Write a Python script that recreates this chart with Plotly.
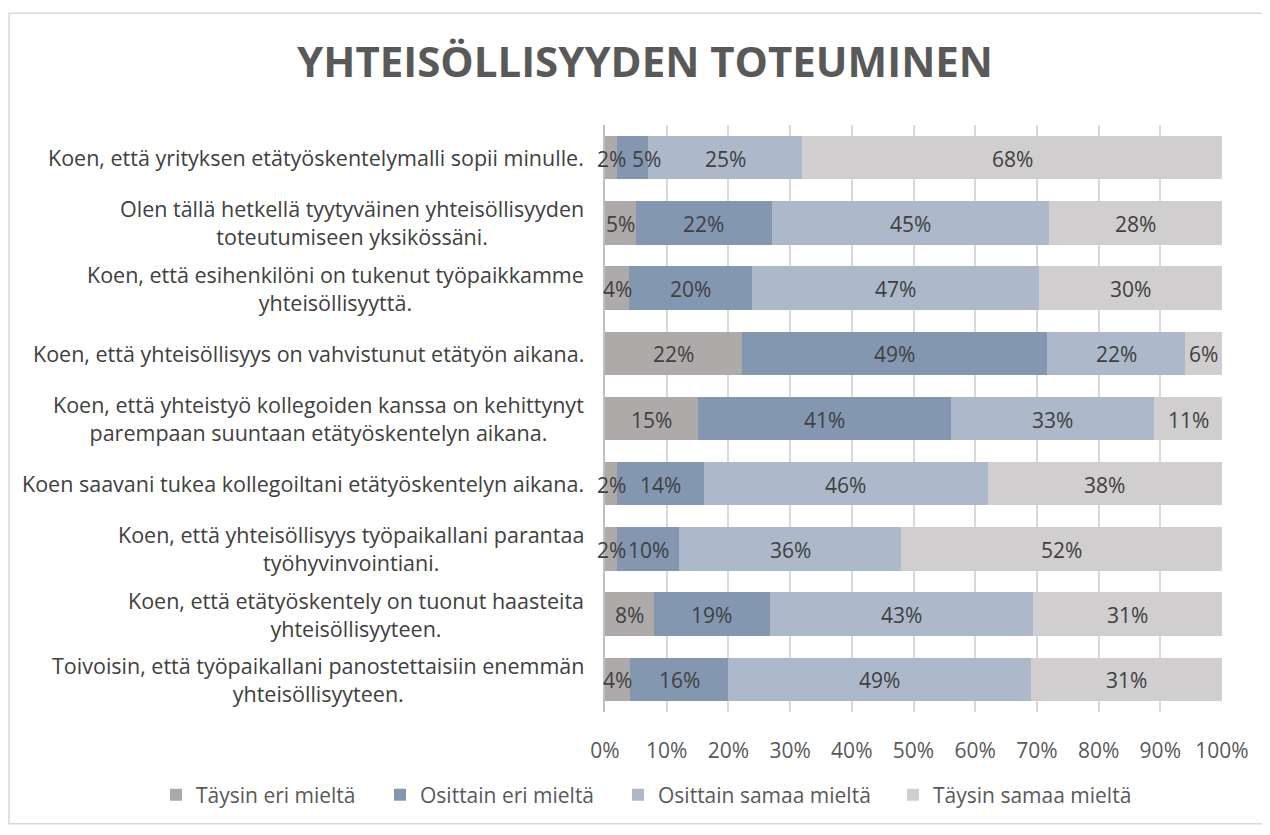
import plotly.graph_objects as go

categories = [
    "Koen, että yrityksen etätyöskentelymalli sopii minulle.",
    "Olen tällä hetkellä tyytyväinen yhteisöllisyyden<br>toteutumiseen yksikössäni.",
    "Koen, että esihenkilöni on tukenut työpaikkamme<br>yhteisöllisyyttä.",
    "Koen, että yhteisöllisyys on vahvistunut etätyön aikana.",
    "Koen, että yhteistyö kollegoiden kanssa on kehittynyt<br>parempaan suuntaan etätyöskentelyn aikana.",
    "Koen saavani tukea kollegoiltani etätyöskentelyn aikana.",
    "Koen, että yhteisöllisyys työpaikallani parantaa<br>työhyvinvointiani.",
    "Koen, että etätyöskentely on tuonut haasteita<br>yhteisöllisyyteen.",
    "Toivoisin, että työpaikallani panostettaisiin enemmän<br>yhteisöllisyyteen.",
]
series_names = ["Täysin eri mieltä", "Osittain eri mieltä", "Osittain samaa mieltä", "Täysin samaa mieltä"]
taysin_eri = [2, 5, 4, 22, 15, 2, 2, 8, 4]
osittain_eri = [5, 22, 20, 49, 41, 14, 10, 19, 16]
osittain_samaa = [25, 45, 47, 22, 33, 46, 36, 43, 49]
taysin_samaa = [68, 28, 30, 6, 11, 38, 52, 31, 31]
series_values = [taysin_eri, osittain_eri, osittain_samaa, taysin_samaa]
colors = ["#AEAAAA", "#8497B0", "#ADB9CA", "#D0CECE"]
x_ticks = list(range(0, 101, 10))

FONT = "Open Sans"
OFF = 8  # default page body margin
W, H = 1254, 819
L, T = 605 - OFF, 125 - OFF
R = W - (1222 - OFF)
B = H - (719 - OFF)
pw, ph = W - L - R, H - T - B

# legend text start positions (screen px) for each series
legend_text_x = [196, 420, 658, 933]
legend_names = ["legend", "legend2", "legend3", "legend4"]
# manual label nudges (series index, category index) -> px, as in the original chart
label_nudge = {(1, 0): 14}

totals = [sum(v) for v in zip(*series_values)]

fig = go.Figure()
cum = [0] * len(categories)
for i, (name, vals, col) in enumerate(zip(series_names, series_values, colors)):
    fig.add_trace(go.Bar(
        y=categories, x=vals, name=name, orientation="h",
        marker=dict(color=col, line=dict(width=0)),
        hoverinfo="skip", legend=legend_names[i],
    ))
    for j, (c, v, t, cat) in enumerate(zip(cum, vals, totals, categories)):
        fig.add_annotation(
            x=(c + v / 2) / t * 100, xref="x", y=cat, yref="y", text=f"{v}%",
            showarrow=False, xanchor="center", yanchor="middle", yshift=-1,
            xshift=label_nudge.get((i, j), 0),
            font=dict(family=FONT, size=21, color="#404040"),
        )
    cum = [c + v for c, v in zip(cum, vals)]

for c in categories:
    fig.add_annotation(
        x=0, xref="paper", y=c, yref="y", text=c, showarrow=False,
        xanchor="right", yanchor="middle", align="center", xshift=-19,
        font=dict(family=FONT, size=21.5, color="#404040"),
    )

# chart border
fig.add_shape(type="rect", xref="paper", yref="paper",
              x0=(9 - OFF - L) / pw, x1=(W + 5 - L) / pw,
              y0=(H - B - (H + 5)) / ph, y1=(H - B - (12 - OFF)) / ph,
              line=dict(color="#D9D9D9", width=1.5), fillcolor="rgba(0,0,0,0)", layer="below")

legend_common = dict(orientation="h", xref="paper", yref="paper", xanchor="left",
                     y=(H - B - (803 - OFF)) / ph, yanchor="middle", bgcolor="rgba(0,0,0,0)",
                     font=dict(family=FONT, size=21, color="#595959"), itemwidth=30)
legend_layout = {}
for ln, tx in zip(legend_names, legend_text_x):
    legend_layout[ln] = dict(x=(tx - 40 - OFF - L) / pw, **legend_common)

fig.update_layout(
    width=W, height=H,
    barmode="stack", barnorm="percent", bargap=0.333,
    paper_bgcolor="white", plot_bgcolor="white",
    margin=dict(l=L, r=R, t=T, b=B),
    title=dict(text="<b>YHTEISÖLLISYYDEN TOTEUMINEN</b>", x=(645 - OFF) / W, xanchor="center",
               y=1 - (62 - OFF) / H, yanchor="middle",
               font=dict(family=FONT, size=42, color="#595959")),
    xaxis=dict(range=[0, 100], tickvals=x_ticks, ticktext=[f"{t}%" for t in x_ticks],
               showgrid=True, gridcolor="#D9D9D9", gridwidth=1.5, zeroline=False,
               showline=False, ticks="", ticklabelstandoff=24,
               tickfont=dict(family=FONT, size=21, color="#595959")),
    yaxis=dict(autorange="reversed", showticklabels=False, showgrid=False,
               showline=True, linecolor="#BFBFBF", linewidth=1.5, ticks="", zeroline=False),
    showlegend=True,
    **legend_layout,
)

fig.write_html("out.html")
